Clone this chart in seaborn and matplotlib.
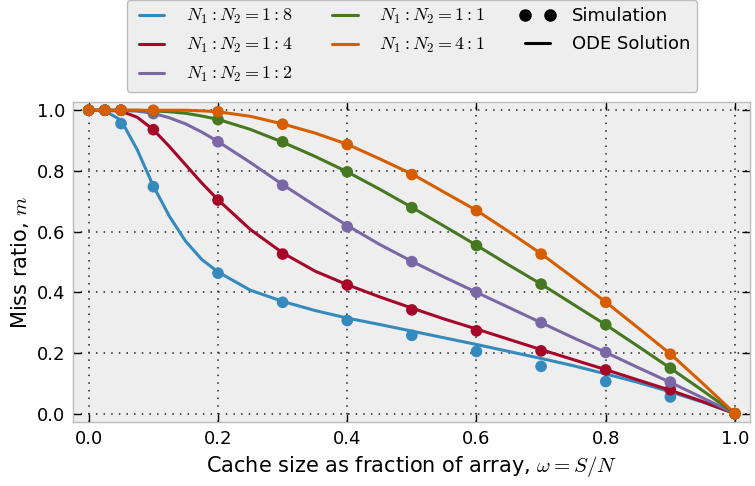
import numpy as np
import pandas as pd
import matplotlib.pyplot as plt
import seaborn as sns
from matplotlib.lines import Line2D

plt.switch_backend('Agg')
sns.set_theme(style="ticks")
plt.rcParams['font.family'] = ['DejaVu Sans']
plt.rcParams['mathtext.fontset'] = 'cm'
plt.rcParams['text.color'] = 'black'
plt.rcParams['axes.labelcolor'] = 'black'
plt.rcParams['xtick.color'] = 'black'
plt.rcParams['ytick.color'] = 'black'

# series labels and colours
ratios = ["1:8", "1:4", "1:2", "1:1", "4:1"]
colors = ["#348ABD", "#A60628", "#7A68A6", "#467821", "#D55E00"]

# simulation points
sim_x = [0.0, 0.025, 0.05, 0.1, 0.2, 0.3, 0.4, 0.5, 0.6, 0.7, 0.8, 0.9, 1.0]
sim_18 = [1.0, 1.0, 0.956, 0.748, 0.463, 0.367, 0.307, 0.258, 0.205, 0.156, 0.106, 0.055, 0.0]
sim_14 = [1.0, 1.0, 1.0, 0.936, 0.704, 0.526, 0.424, 0.342, 0.273, 0.207, 0.144, 0.079, 0.0]
sim_12 = [1.0, 1.0, 1.0, 0.989, 0.896, 0.753, 0.616, 0.501, 0.400, 0.300, 0.202, 0.104, 0.0]
sim_11 = [1.0, 1.0, 1.0, 0.998, 0.969, 0.896, 0.797, 0.679, 0.554, 0.427, 0.293, 0.150, 0.0]
sim_41 = [1.0, 1.0, 1.0, 1.0, 0.995, 0.954, 0.887, 0.788, 0.669, 0.526, 0.367, 0.196, 0.0]

# ODE solution curves
ode_x = [0.0, 0.025, 0.05, 0.075, 0.1, 0.125, 0.15, 0.175, 0.2, 0.25, 0.3, 0.35, 0.4,
         0.45, 0.5, 0.55, 0.6, 0.65, 0.7, 0.75, 0.8, 0.85, 0.9, 0.95, 1.0]
ode_18 = [1.0, 0.998, 0.967, 0.87, 0.75, 0.65, 0.568, 0.508, 0.467, 0.407, 0.37, 0.34, 0.315,
          0.294, 0.272, 0.25, 0.228, 0.205, 0.182, 0.158, 0.131, 0.103, 0.072, 0.038, 0.0]
ode_14 = [1.0, 1.0, 0.997, 0.977, 0.936, 0.88, 0.82, 0.76, 0.705, 0.607, 0.53, 0.47, 0.425,
          0.385, 0.348, 0.312, 0.279, 0.245, 0.211, 0.178, 0.145, 0.111, 0.077, 0.04, 0.0]
ode_12 = [1.0, 1.0, 1.0, 0.997, 0.99, 0.975, 0.955, 0.928, 0.897, 0.828, 0.755, 0.686, 0.62,
          0.558, 0.502, 0.45, 0.4, 0.35, 0.3, 0.25, 0.202, 0.152, 0.103, 0.052, 0.0]
ode_11 = [1.0, 1.0, 1.0, 1.0, 0.998, 0.995, 0.99, 0.981, 0.97, 0.937, 0.895, 0.848, 0.797,
          0.74, 0.68, 0.618, 0.555, 0.49, 0.427, 0.36, 0.293, 0.222, 0.15, 0.076, 0.0]
ode_41 = [1.0, 1.0, 1.0, 1.0, 1.0, 1.0, 1.0, 0.998, 0.995, 0.98, 0.955, 0.925, 0.888,
          0.84, 0.79, 0.73, 0.67, 0.6, 0.527, 0.448, 0.368, 0.283, 0.197, 0.1, 0.0]

sims = [sim_18, sim_14, sim_12, sim_11, sim_41]
odes = [ode_18, ode_14, ode_12, ode_11, ode_41]

df_sim = pd.concat([pd.DataFrame({"x": sim_x, "m": v, "ratio": r}) for r, v in zip(ratios, sims)])
df_ode = pd.concat([pd.DataFrame({"x": ode_x, "m": v, "ratio": r}) for r, v in zip(ratios, odes)])
pal = dict(zip(ratios, colors))

fig = plt.figure(figsize=(7.55, 4.86), dpi=100)
ax = fig.add_axes([0.097, 0.132, 0.897, 0.658])
ax.set_facecolor("#eeeeee")

sns.lineplot(data=df_ode, x="x", y="m", hue="ratio", palette=pal, linewidth=2.2,
             legend=False, ax=ax, zorder=2)
sns.scatterplot(data=df_sim, x="x", y="m", hue="ratio", palette=pal, s=70,
                edgecolor="none", legend=False, ax=ax, zorder=3)

ax.set_xlim(-0.024, 1.024)
ax.set_ylim(-0.027, 1.027)
ax.set_xticks(np.arange(0, 1.01, 0.2))
ax.set_yticks(np.arange(0, 1.01, 0.2))
ax.grid(True, color="#222222", linestyle=(0, (1, 4)), linewidth=1.1)
ax.tick_params(direction="in", length=6, width=1, top=True, right=True,
               labelsize=13, pad=6)
for s in ax.spines.values():
    s.set_color("#bcbcbc")
    s.set_linewidth(1.0)

ax.set_xlabel(r"Cache size as fraction of array, $\omega = S/N$", fontsize=15)
ax.set_ylabel(r"Miss ratio, $m$", fontsize=15)

handles = [Line2D([], [], color=c, lw=2.2) for c in colors]
labels = [rf"$N_1:N_2={r}$" for r in ratios]
handles.append(Line2D([], [], color="black", marker="o", linestyle="none", markersize=8))
labels.append("Simulation")
handles.append(Line2D([], [], color="black", lw=2.2))
labels.append("ODE Solution")

leg = ax.legend(handles, labels, ncol=3, loc="upper center", bbox_to_anchor=(0.5, 1.32),
                fontsize=13, numpoints=2, frameon=True, fancybox=True,
                handlelength=2.0, handletextpad=0.9, columnspacing=1.9,
                labelspacing=0.56, borderaxespad=0.0, borderpad=0.4)
leg.get_frame().set_facecolor("#eeeeee")
leg.get_frame().set_edgecolor("#bcbcbc")
leg.get_frame().set_alpha(1.0)

fig.savefig("out.png", dpi=100)
